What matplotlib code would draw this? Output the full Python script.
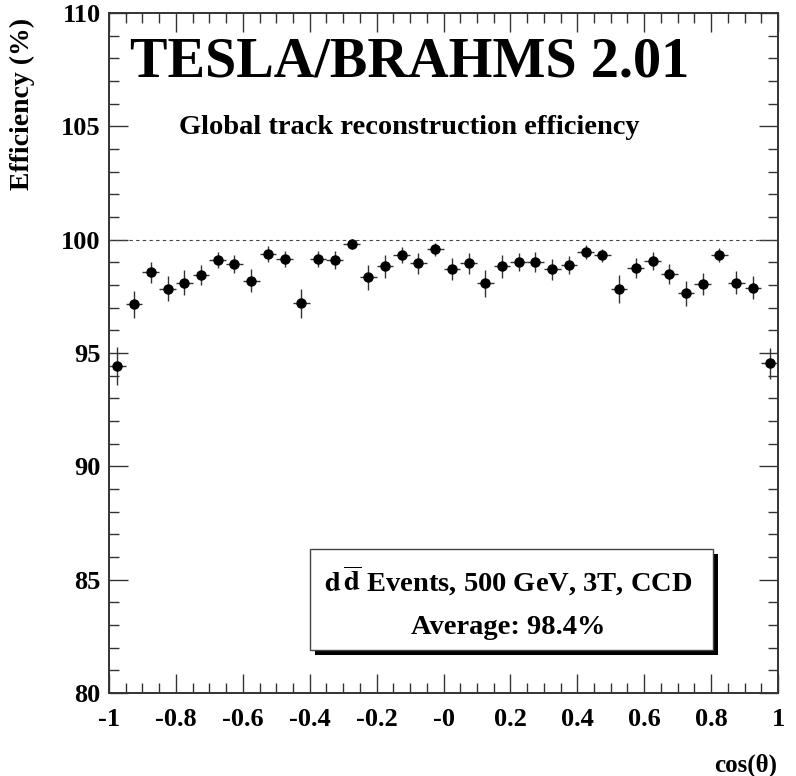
import numpy as np
import matplotlib
matplotlib.use("Agg")
import matplotlib.pyplot as plt
from matplotlib.patches import Rectangle
from matplotlib.ticker import MultipleLocator, FixedLocator, FixedFormatter

plt.rcParams['font.family'] = ['Liberation Serif', 'DejaVu Serif']
plt.rcParams['font.weight'] = 'bold'
plt.rcParams['mathtext.fontset'] = 'stix'

# efficiency per cos(theta) bin (40 bins of width 0.05)
bin_lo = -1.0
bin_w = 0.05
eff = [94.42, 97.15, 98.56, 97.84, 98.10, 98.45, 99.10, 98.92, 98.19, 99.35,
       99.14, 97.19, 99.16, 99.09, 99.81, 98.34, 98.82, 99.33, 98.95, 99.57,
       98.70, 98.95, 98.07, 98.82, 99.00, 99.01, 98.69, 98.87, 99.45, 99.31,
       97.82, 98.75, 99.07, 98.48, 97.63, 98.04, 99.32, 98.10, 97.88, 94.54]
err = [0.85, 0.60, 0.45, 0.55, 0.55, 0.45, 0.35, 0.40, 0.50, 0.35,
       0.35, 0.65, 0.35, 0.40, 0.20, 0.55, 0.50, 0.35, 0.45, 0.30,
       0.50, 0.45, 0.60, 0.50, 0.40, 0.45, 0.45, 0.40, 0.30, 0.30,
       0.60, 0.45, 0.40, 0.45, 0.55, 0.50, 0.30, 0.50, 0.50, 0.70]

xtick_vals = [-1, -0.8, -0.6, -0.4, -0.2, 0, 0.2, 0.4, 0.6, 0.8, 1]
xtick_labels = ['-1', '-0.8', '-0.6', '-0.4', '-0.2', '-0', '0.2', '0.4', '0.6', '0.8', '1']
ytick_vals = [80, 85, 90, 95, 100, 105, 110]

title = 'TESLA/BRAHMS 2.01'
subtitle = 'Global track reconstruction efficiency'
box_line1 = r'$\mathbf{d\,\overline{d}}$ Events, 500 GeV, 3T, CCD'
box_line2 = 'Average: 98.4%'

W, H = 796, 776
fig = plt.figure(figsize=(W / 100, H / 100), dpi=100)
ax = fig.add_axes([109 / W, 1 - 693 / H, (778 - 109) / W, (693 - 13) / H])

x = bin_lo + bin_w * (np.arange(len(eff)) + 0.5)
ax.errorbar(x, eff, yerr=err, xerr=bin_w / 2, fmt='o', color='black',
            ecolor='#333333', elinewidth=1.0, capsize=0, ms=6.5)
ax.axhline(100, color='#444444', lw=0.8, ls=(0, (3, 3)))

ax.set_xlim(-1, 1)
ax.set_ylim(80, 110)
ax.xaxis.set_major_locator(FixedLocator(xtick_vals))
ax.xaxis.set_major_formatter(FixedFormatter(xtick_labels))
ax.xaxis.set_minor_locator(MultipleLocator(0.05))
ax.yaxis.set_major_locator(FixedLocator(ytick_vals))
ax.yaxis.set_minor_locator(MultipleLocator(1))
ax.tick_params(which='both', direction='in', top=True, right=True,
               labelsize=19, width=1.0, color='#333333', pad=6)
ax.tick_params(axis='x', which='both', pad=11)
ax.tick_params(which='major', length=13.5)
ax.tick_params(which='minor', length=7)
for s in ax.spines.values():
    s.set_linewidth(1.4)
    s.set_color('#333333')

ax.text(0.449, 0.927, title, transform=ax.transAxes, ha='center', va='center',
        fontsize=40.5, fontweight='bold')
ax.text(0.449, 0.832, subtitle, transform=ax.transAxes, ha='center', va='center',
        fontsize=20.5, fontweight='bold')

fig.text(22 / W, 1 - 18 / H, 'Efficiency (%)', rotation=90, ha='center', va='top',
         fontsize=20, fontweight='bold')
fig.text(777 / W, 1 - 765 / H, 'cos(\u03b8)', ha='right', va='center',
         fontsize=18, fontweight='bold')

# text box with shadow
def fig_rect(x0, y0, x1, y1, **kw):
    return Rectangle((x0 / W, 1 - y1 / H), (x1 - x0) / W, (y1 - y0) / H,
                     transform=fig.transFigure, **kw)

fig.patches.append(fig_rect(315, 554, 718, 655, facecolor='black', edgecolor='none', zorder=5))
fig.patches.append(fig_rect(310, 549, 713, 650, facecolor='white', edgecolor='#444444',
                            lw=1.0, zorder=6))
fig.text(508 / W, 1 - 580 / H, box_line1, ha='center', va='center', fontsize=20.5,
         fontweight='bold', zorder=7)
fig.text(508 / W, 1 - 628 / H, box_line2, ha='center', va='center', fontsize=20.5,
         fontweight='bold', zorder=7)

fig.savefig('out.png', dpi=100)
